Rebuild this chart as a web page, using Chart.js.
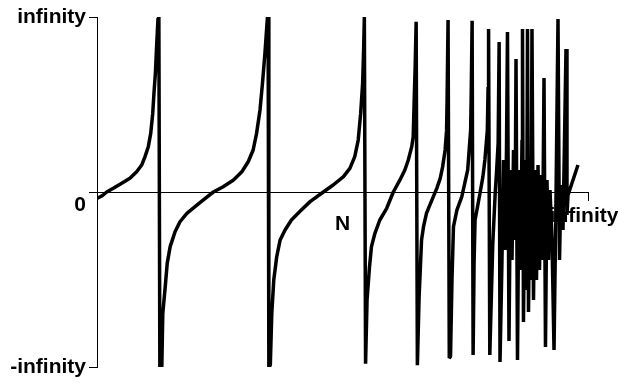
<!DOCTYPE html>
<html>
<head>
<meta charset="utf-8">
<script src="https://cdn.jsdelivr.net/npm/chart.js@4/dist/chart.umd.min.js"></script>
<style>
  html, body { margin: 0; padding: 0; background: #fff; }
  #wrap { width: 618px; height: 389px; }
</style>
</head>
<body>
<div id="wrap"><canvas id="chart"></canvas></div>
<script>
// curve: x runs 0..100 (0 to infinity), y -100..100 (-infinity to infinity)
const curveX = [
  0.06, 0.96, 1.98, 3.32, 5.04, 6.7, 8.08, 9.1, 9.78, 10.45, 10.94, 11.35, 11.6, 11.89, 12.17, 12.43, 12.6,
  12.8, 13.2, 13.4, 13.9, 14.3, 14.9, 15.9, 16.9, 18.3, 19.97, 21.6, 23.7, 25.7, 27.8, 29.5, 30.8, 31.8, 32.5, 33.2, 33.7, 34.2, 34.7, 34.85,
  35.0, 35.3, 35.6, 36.0, 36.6, 37.3, 38.3, 39.6, 41.3, 43.4, 46.1, 48.1, 50.2, 51.5, 52.5, 53.2, 53.7, 54.1, 54.3, 54.45,
  54.7, 55.0, 55.5, 55.9, 56.6, 57.6, 59.0, 60.35, 61.7, 62.7, 63.4, 64.1, 64.4, 64.6, 64.8, 65.0,
  65.25, 65.6, 66.1, 66.5, 67.1, 67.8, 68.5, 69.2, 69.9, 70.4, 70.9, 71.2, 71.3, 71.5,
  71.75, 72.0, 72.3, 72.6, 73.3, 74.3, 74.9, 75.5, 75.8, 76.1, 76.2, 76.4,
  76.6, 76.8, 77.0, 77.5, 78.0, 78.6, 79.0, 79.5, 79.65, 79.75,
  80.0, 80.6, 81.1, 81.4, 81.7, 81.9,
  // tangle near infinity
  82.08, 82.48, 82.79, 83.10, 83.40, 83.60,
  83.91, 84.22, 84.52, 84.83, 85.13, 85.34,
  85.64, 85.95, 86.25, 86.56, 86.66,
  86.86, 87.17, 87.47, 87.68,
  87.88, 88.19, 88.39, 88.59,
  88.90, 89.21, 89.51, 89.82, 90.12, 90.43, 90.73, 91.04,
  91.34, 91.65, 91.96, 92.26, 92.67, 93.08, 93.48, 93.89,
  94.20, 94.50, 94.91, 95.52, 95.72, 95.93, 97.96
];
const curveY = [
  -3.6, -2.3, 0, 2.1, 5, 7.8, 11.6, 15.4, 20.2, 25.9, 33.5, 44.9, 56.4, 67.8, 85, 99.3, 100,
  -100, -99.8, -69.3, -54, -40.8, -31.2, -22.7, -17, -12.2, -8.4, -4.6, 0, 3, 6.9, 11.6, 17.3, 24, 33.5, 46.9, 62.1, 79.2, 99.3, 100,
  -100, -98.9, -69.3, -50.3, -37, -27.4, -21.7, -16, -11.2, -5.5, 0, 4, 8.8, 13.5, 20.2, 29.7, 44.9, 62.1, 81.1, 100,
  -98.1, -61.7, -42.7, -31.2, -23.6, -16, -9.3, 0, 6.9, 12.6, 18.3, 25.9, 31.6, 52.6, 71.6, 97.3,
  -99, -60, -27.4, -19.8, -12.2, -7.4, -2.6, 2.1, 7.8, 14.5, 24, 35.2, 52.6, 98.3,
  -94.9, -94, -50, -19.8, -10.3, -2.7, 5, 12.6, 24, 35.4, 52.6, 97.9,
  -93.1, -40, -16, -8.4, -0.7, 8.8, 18.3, 35.4, 60, 93.1,
  -93.1, -30, -0.7, 12.6, 28, 85.7,
  -97.1, -38.9, 18.3, -33.1, 24, 91.4,
  -85.1, 12.6, -38.9, 24, -27.4, 76,
  -96, 12.6, -44.6, 29.7, 93.1,
  -74.3, 18.3, -56, 93.1,
  -68.6, 18.3, -50.3, 93.1,
  -61.7, 12.6, -50.3, 15.4, -44.6, 9.7, -38.9, 65.1,
  -88.6, 6.9, -38.9, 1.1, -27.4, -90.3, -4.6, 98.9,
  -38.9, 4, -21.7, 81.7, -13.1, -1.7, 15.4
];

const yTickValues = [-100, 0, 100];
const yTickLabels = ['-infinity', '', 'infinity'];
const xTickValues = [100];
const xMarkValues = [0, 50, 100];
const xMarkLabels = ['0', 'N', 'infinity'];

const FONT = 'bold 21px "Liberation Sans", Arial, sans-serif';

// labels along the x axis sit at uneven offsets in the picture
const xMarkOffsets = [[-17, 13], [0, 32], [-4, 24]];

const axisText = {
  id: 'axisText',
  beforeDatasetsDraw(chart) {
    const ctx = chart.ctx;
    const xs = chart.scales.x, ys = chart.scales.y;
    ctx.save();
    ctx.font = FONT;
    ctx.fillStyle = '#000';
    ctx.textAlign = 'center';
    ctx.textBaseline = 'middle';
    xMarkValues.forEach((v, i) => {
      const off = xMarkOffsets[i];
      ctx.fillText(xMarkLabels[i], xs.getPixelForValue(v) + off[0], ys.getPixelForValue(0) + off[1]);
    });
    ctx.restore();
  }
};

new Chart(document.getElementById('chart'), {
  type: 'line',
  data: {
    datasets: [{
      data: curveX.map((x, i) => ({ x: x, y: curveY[i] })),
      borderColor: '#000',
      borderWidth: 3.5,
      borderJoinStyle: 'bevel',
      pointRadius: 0,
      tension: 0,
      fill: false
    }]
  },
  options: {
    responsive: true,
    maintainAspectRatio: false,
    animation: false,
    layout: { padding: { top: 17, bottom: 22, right: 30, left: 0 } },
    plugins: { legend: { display: false }, tooltip: { enabled: false } },
    scales: {
      x: {
        type: 'linear',
        min: 0,
        max: 100,
        position: { y: 0 },
        afterBuildTicks: s => { s.ticks = xTickValues.map(v => ({ value: v })); },
        ticks: { display: false },
        grid: { drawOnChartArea: false, tickLength: 8, color: '#000' },
        border: { display: true, color: '#000', width: 1 }
      },
      y: {
        type: 'linear',
        min: -100,
        max: 100,
        afterBuildTicks: s => { s.ticks = yTickValues.map(v => ({ value: v })); },
        afterFit: s => { s.width = 97; },
        ticks: {
          padding: 3,
          color: '#000',
          font: { family: '"Liberation Sans", Arial, sans-serif', size: 21, weight: 'bold' },
          callback: v => yTickLabels[yTickValues.indexOf(v)]
        },
        grid: { drawOnChartArea: false, tickLength: 8, color: '#000' },
        border: { display: true, color: '#000', width: 1 }
      }
    }
  },
  plugins: [axisText]
});
</script>
</body>
</html>
